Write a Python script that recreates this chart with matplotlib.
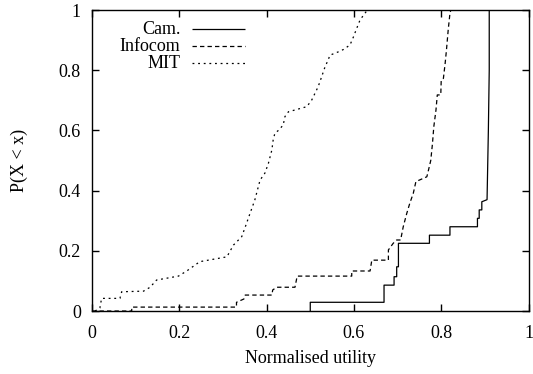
import matplotlib
matplotlib.use("Agg")
import matplotlib.pyplot as plt

plt.rcParams['font.family'] = ['Liberation Serif', 'DejaVu Serif']

# CDF curves (x = normalised utility, y = P(X < x))
cam_x = [0.5, 0.5, 0.669, 0.669, 0.692, 0.692, 0.698, 0.698, 0.702, 0.702,
         0.773, 0.773, 0.82, 0.82, 0.883, 0.883, 0.887, 0.887, 0.893, 0.893,
         0.905, 0.908, 0.91, 0.91]
cam_y = [0.0, 0.029, 0.029, 0.086, 0.086, 0.114, 0.114, 0.147, 0.147, 0.225,
         0.225, 0.252, 0.252, 0.28, 0.28, 0.308, 0.308, 0.336, 0.336, 0.363,
         0.37, 0.6, 0.8, 1.0]

infocom_x = [0.0, 0.091, 0.091, 0.331, 0.331, 0.348, 0.351, 0.412, 0.414,
             0.423, 0.465, 0.47, 0.595, 0.595, 0.637, 0.641, 0.679, 0.679,
             0.69, 0.698, 0.707, 0.713, 0.721, 0.728, 0.736, 0.742, 0.767,
             0.769, 0.776, 0.78, 0.783, 0.788, 0.791, 0.799, 0.80, 0.805,
             0.809, 0.812, 0.816, 0.82, 0.822]
infocom_y = [0.0, 0.0, 0.013, 0.013, 0.029, 0.04, 0.053, 0.053, 0.07,
             0.079, 0.079, 0.116, 0.116, 0.133, 0.133, 0.169, 0.169, 0.203,
             0.225, 0.236, 0.236, 0.28, 0.324, 0.358, 0.391, 0.43, 0.446,
             0.457, 0.50, 0.557, 0.612, 0.668, 0.718, 0.718, 0.767, 0.773,
             0.823, 0.867, 0.934, 0.989, 1.0]

mit_x = [0.007, 0.018, 0.022, 0.064, 0.068, 0.118, 0.133, 0.148, 0.198,
         0.217, 0.247, 0.309, 0.324, 0.343, 0.354, 0.358, 0.373, 0.385,
         0.396, 0.404, 0.412, 0.415, 0.419, 0.427, 0.438, 0.442, 0.45,
         0.492, 0.503, 0.511, 0.518, 0.526, 0.534, 0.541, 0.545, 0.564,
         0.576, 0.591, 0.599, 0.605, 0.614, 0.625, 0.631]
mit_y = [0.0, 0.01, 0.042, 0.042, 0.064, 0.066, 0.079, 0.103, 0.116,
         0.133, 0.164, 0.18, 0.219, 0.247, 0.291, 0.308, 0.369, 0.435,
         0.458, 0.49, 0.535, 0.568, 0.591, 0.60, 0.618, 0.646, 0.662,
         0.679, 0.70, 0.724, 0.745, 0.778, 0.812, 0.834, 0.85, 0.861,
         0.869, 0.884, 0.911, 0.934, 0.967, 0.989, 1.0]

tick_vals = [0, 0.2, 0.4, 0.6, 0.8, 1]
tick_labels = ['0', '0.2', '0.4', '0.6', '0.8', '1']
series_names = ['Cam.', 'Infocom', 'MIT']

fig = plt.figure(figsize=(5.33, 3.74), dpi=100)
ax = fig.add_axes([0.1726, 0.1684, 0.819, 0.8047])

styles = [(0, ()), (0, (3.5, 2.5)), (0, (1.5, 3))]
series = [(cam_x, cam_y), (infocom_x, infocom_y), (mit_x, mit_y)]
for (xs, ys), ls in zip(series, styles):
    ax.plot(xs, ys, color='black', lw=0.9, linestyle=ls)

ax.set_xlim(0, 1)
ax.set_ylim(0, 1)
ax.set_xticks(tick_vals)
ax.set_xticklabels(tick_labels)
ax.set_yticks(tick_vals)
ax.set_yticklabels(tick_labels)
ax.tick_params(direction='in', length=5, width=1, top=True, right=True,
               labelsize=13)
ax.tick_params(axis='x', pad=10)
ax.tick_params(axis='y', pad=8)
for s in ax.spines.values():
    s.set_linewidth(1)

ax.set_xlabel('Normalised utility', fontsize=13, labelpad=6)
ax.set_ylabel('P(X < x)', fontsize=13, labelpad=22)

# gnuplot style key: label right-aligned, sample line to its right
for i, (name, ls) in enumerate(zip(series_names, styles)):
    yk = 0.937 - i * 0.057
    ax.text(0.203, yk, name, transform=ax.transAxes, ha='right',
            va='center', fontsize=13)
    ax.plot([0.229, 0.351], [yk, yk], transform=ax.transAxes,
            color='black', lw=0.9, linestyle=ls)

fig.savefig('out.png', dpi=100)
